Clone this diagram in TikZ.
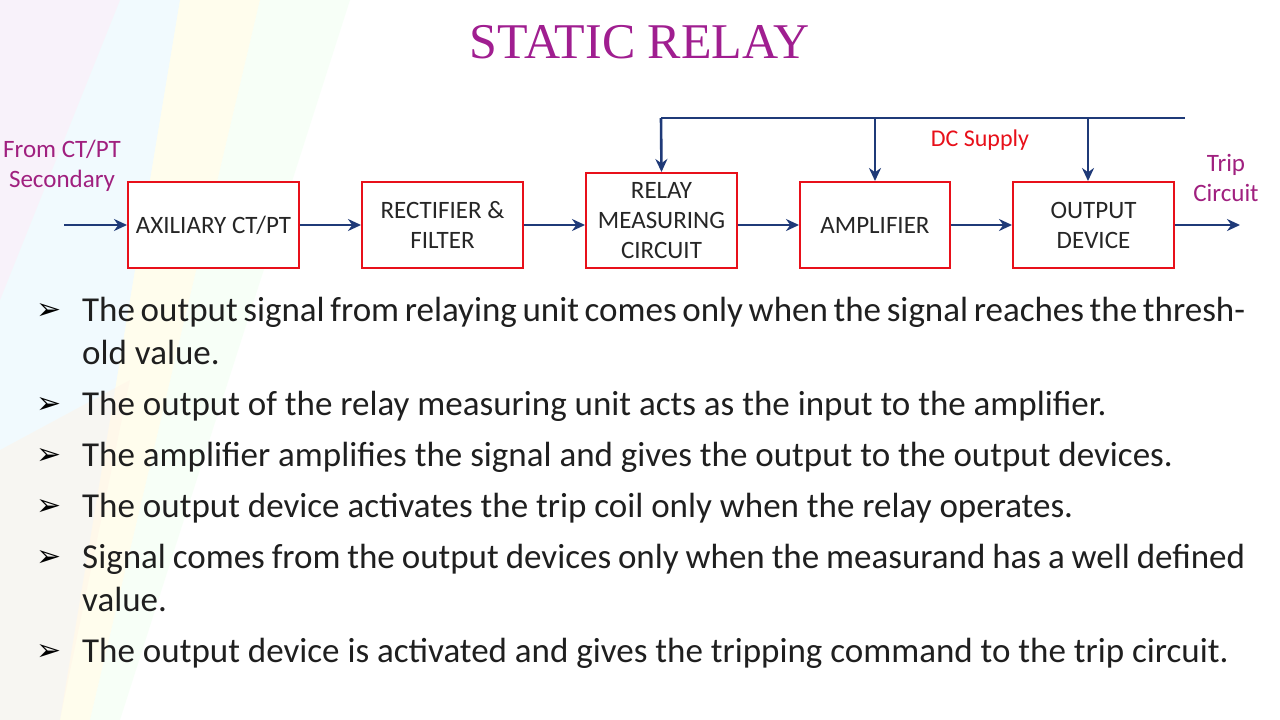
\documentclass[tikz,border=0pt]{standalone}
\usepackage{fontspec}
\setmainfont{Carlito}
\newfontfamily\titlefont{Liberation Serif}
\newfontfamily\symfont{DejaVu Sans}
\usetikzlibrary{arrows.meta}
\definecolor{arr}{HTML}{1F3A78}
\definecolor{boxred}{HTML}{E8101A}
\definecolor{purp}{HTML}{A0207F}
\definecolor{titlec}{HTML}{A01E90}
\tikzset{
  blk/.style={draw=boxred,line width=2pt,fill=white,align=center,inner sep=0pt,
    font=\fontsize{25}{30}\selectfont,text=black!85},
  conn/.style={draw=arr,line width=2.6pt,-{Stealth[length=13pt,width=12pt]}},
  bul/.style={anchor=north west,text width=1163pt,align=justify,
    font=\fontsize{35}{43}\selectfont,text=black!88,inner sep=0pt},
  bulmark/.style={anchor=north west,font=\symfont\fontsize{30}{30}\selectfont,inner sep=0pt}
}
\begin{document}
\begin{tikzpicture}[x=1pt,y=-1pt]
\useasboundingbox (0,0) rectangle (1280,720);
\fill[white] (0,0) rectangle (1280,720);
% faded decorative background
\fill[cyan!20,opacity=0.6] (0,0) -- (180,0) -- (60,720) -- (0,720) -- cycle;
\fill[magenta!15,opacity=0.6] (0,0) -- (120,0) -- (0,300) -- cycle;
\fill[yellow!30,opacity=0.5] (180,0) -- (260,0) -- (90,720) -- (60,720) -- cycle;
\fill[green!12,opacity=0.5] (260,0) -- (350,0) -- (120,720) -- (90,720) -- cycle;
\fill[orange!20,opacity=0.5] (0,450) -- (130,380) -- (60,720) -- (0,720) -- cycle;
\fill[white,opacity=0.55] (0,0) rectangle (1280,720);
% title
\node[font=\titlefont\fontsize{50}{56}\selectfont,text=titlec] (title) at (640,42) {STATIC RELAY};
% blocks
\node[blk,minimum width=171pt,minimum height=86pt] (ax) at (213.5,225) {AXILIARY CT/PT};
\node[blk,minimum width=161pt,minimum height=86pt] (rf) at (442.5,225) {RECTIFIER \&\\FILTER};
\node[blk,minimum width=151pt,minimum height=95pt] (rm) at (661.5,220.5) {RELAY\\MEASURING\\CIRCUIT};
\node[blk,minimum width=150pt,minimum height=86pt] (am) at (875,225) {AMPLIFIER};
\node[blk,minimum width=161pt,minimum height=86pt] (od) at (1093.5,225) {OUTPUT\\DEVICE};
\coordinate (in) at (64,225);
\coordinate (out) at (1240,225);
\coordinate (fa) at (661,118);
\coordinate (fb) at (875,118);
\coordinate (fc) at (1088,118);
\coordinate (fe) at (1185,118);
\draw[conn] (in) -- (ax.west);
\draw[conn] (ax.east) -- (rf.west);
\draw[conn] (rf.east) -- (rm.west |- rf.east);
\draw[conn] (rm.east |- am.west) -- (am.west);
\draw[conn] (am.east) -- (od.west);
\draw[conn] (od.east) -- (out);
\draw[draw=arr,line width=2.6pt] (fa) -- (fe);
\draw[conn] (fa) -- (rm.north);
\draw[conn] (fb) -- (am.north);
\draw[conn] (fc) -- (od.north -| fc);
\node[text=boxred,font=\fontsize{24}{26}\selectfont] (dc) at (980,140) {DC Supply};
\node[text=purp,font=\fontsize{25}{30}\selectfont,align=center] (from) at (62,166) {From CT/PT\\Secondary};
\node[text=purp,font=\fontsize{25}{30}\selectfont,align=center] (trip) at (1226,178) {Trip\\Circuit};
% bullets
\foreach \y in {297,391,442,493,544,638} \node[bulmark] at (36,\y+6) {➢};
\node[bul] (b1) at (82,297) {The output signal from relaying unit comes only when the signal reaches the threshold value.};
\node[bul] (b2) at (82,391) {The output of the relay measuring unit acts as the input to the amplifier.};
\node[bul] (b3) at (82,442) {The amplifier amplifies the signal and gives the output to the output devices.};
\node[bul] (b4) at (82,493) {The output device activates the trip coil only when the relay operates.};
\node[bul] (b5) at (82,544) {Signal comes from the output devices only when the measurand has a well defined value.};
\node[bul] (b6) at (82,638) {The output device is activated and gives the tripping command to the trip circuit.};
\end{tikzpicture}
\end{document}
